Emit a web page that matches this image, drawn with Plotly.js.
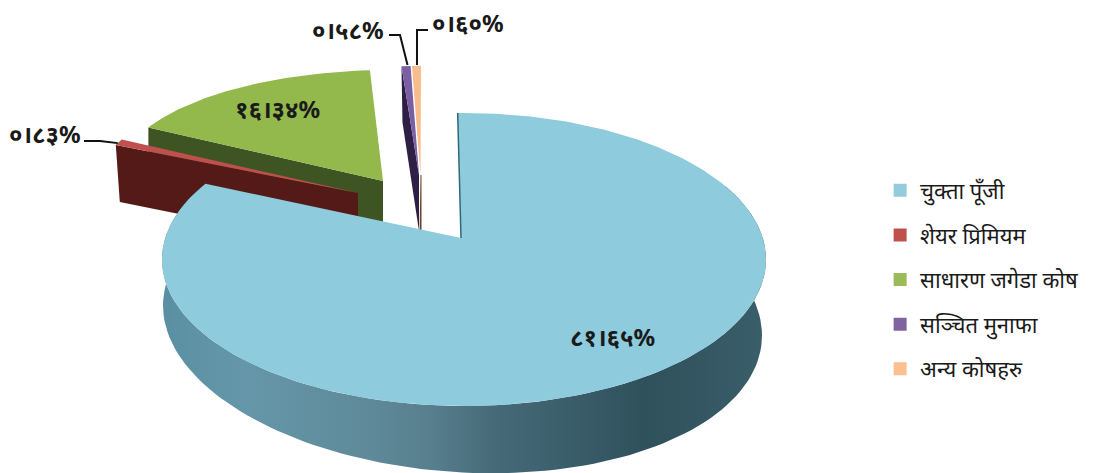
<!DOCTYPE html>
<html><head><meta charset="utf-8">
<script src="https://cdn.plot.ly/plotly-3.0.1.min.js"></script>
<style>html,body{margin:0;padding:0;background:#fff}#c{width:1094px;height:473px}</style></head>
<body><div id="c"></div>
<script>
// ---- data ----
const categories = ["चुक्ता पूँजी","शेयर प्रिमियम","साधारण जगेडा कोष","सञ्चित मुनाफा","अन्य कोषहरु"];
const shares = [81.65, 0.83, 16.34, 0.58, 0.60];
const shareLabels = ["८१।६५%","०।८३%","१६।३४%","०।५८%","०।६०%"];

// ---- styles ----
const legendColors = ["#93cddd","#c0504d","#9bbb59","#8064a2","#fac090"];
const topColors = ["#8dcbdd","#c0504d","#93b84c","#7a5fa5","#f7bd8c"];
const wallColors = ["#3f6675","#541a18","#3f5423","#2e1f45","#6b4528"];
const font = '"Noto Sans","DejaVu Sans",sans-serif';

// ---- projection of each wedge: rim ellipse, apex, wall height (pixels of the 1094x473 canvas) ----
const rims = [
  {cx:464, cy:259.5, rx:302, ry:146.5, ax:461, ay:238, h:48, sweep:1.0285, start:-1.2},
  {cx:358, cy:193, rx:265, ry:118, ax:358, ay:193, h:57},
  {cx:390, cy:175, rx:271, ry:105, ax:383, ay:181, h:48},
  {cx:420, cy:171, rx:250, ry:105, ax:419, ay:175, h:56},
  {cx:421, cy:171, rx:240, ry:105, ax:420.5, ay:175, h:56}
];

const rad = d => d*Math.PI/180;
let acc = 0;
const wedges = shares.map((s,i)=>{
  const r = rims[i];
  const a0 = (r.start!==undefined ? r.start : acc*3.6);
  const a1 = a0 + s*3.6*(r.sweep||1);
  acc += s;
  const xs=[], ys=[];
  const n = Math.max(2, Math.ceil(a1-a0));
  for(let k=0;k<=n;k++){
    const a = rad(a0+(a1-a0)*k/n);
    xs.push(r.cx+r.rx*Math.sin(a)); ys.push(r.cy-r.ry*Math.cos(a));
  }
  return {r,xs,ys};
});
function poly(x,y,color,extra){
  return Object.assign({type:"scatter",mode:"lines",x,y,fill:"toself",fillcolor:color,
    line:{width:0,color:color},hoverinfo:"skip",showlegend:false},extra||{});
}
function topFace(i){
  const w=wedges[i];
  return poly([w.r.ax,...w.xs,w.r.ax],[w.r.ay,...w.ys,w.r.ay],topColors[i]);
}
function cutFace(i,shift){ // visible radial face under the first rim point
  const w=wedges[i], x0=w.xs[0], y0=w.ys[0], h=w.r.h;
  return poly([x0,w.r.ax,w.r.ax,x0+(shift||0),x0],[y0,w.r.ay,w.r.ay+h,y0+h,y0],wallColors[i]);
}
// blue outer wall
function blueWall(){
  const r=rims[0], xs=[], ys=[], bot={cx:462.5,cy:320.5,rx:299.5,ry:152,tilt:15};
  for(let a=60;a<=300;a+=2){xs.push(r.cx+r.rx*Math.sin(rad(a)));ys.push(r.cy-r.ry*Math.cos(rad(a)));}
  for(let a=300;a>=60;a-=2){xs.push(bot.cx+bot.rx*Math.sin(rad(a)));ys.push(bot.cy-bot.ry*Math.cos(rad(a))+bot.tilt*Math.sin(rad(a)));}
  return poly(xs,ys,wallColors[0],{fillgradient:{type:"horizontal",colorscale:[
    [0,"#5a8fa2"],[0.14,"#6597a9"],[0.36,"#5e8897"],[0.45,"#577e8d"],[0.55,"#466a78"],[0.8,"#2e515c"],[1,"#3a5e6a"]]}});
}
const w0=wedges[0];
const traces=[
  cutFace(2), topFace(2),
  cutFace(1,4), topFace(1),
  cutFace(3,1), topFace(3),
  poly([wedges[4].r.ax,wedges[4].r.ax+1,wedges[4].r.ax+1,wedges[4].r.ax-1],[175,175,235,235],wallColors[4]),
  topFace(4),
  blueWall(),
  topFace(0),
  {type:"scatter",mode:"lines",x:[w0.xs[0],w0.r.ax],y:[w0.ys[0],w0.r.ay],line:{color:"#2f6a78",width:1.5},hoverinfo:"skip",showlegend:false}
];
// leader lines, anchored on the label side and on the wedge rim
const leaderLine={color:"#111",width:2};
function leader(x,y){return {type:"scatter",mode:"lines",x,y,line:leaderLine,hoverinfo:"skip",showlegend:false};}
traces.push(leader([84,100,wedges[1].xs[0]+2],[141,141,wedges[1].ys[0]-2]));
traces.push(leader([389,400,wedges[3].xs[Math.floor(wedges[3].xs.length/2)]],[35,35,65]));
traces.push(leader([428,417,wedges[4].xs[Math.floor(wedges[4].xs.length/2)]-1],[30,30,65]));
// legend
categories.forEach((c,i)=>traces.push({type:"scatter",mode:"markers",x:[null],y:[null],name:c,legendgroup:"g"+i,
  marker:{symbol:"square",size:13,color:legendColors[i]},hoverinfo:"skip"}));

const labelPos=[[612,336],[45,133],[277,108],[348,29],[468,22]];
const annotations=shareLabels.map((t,i)=>({x:labelPos[i][0],y:labelPos[i][1],xref:"x",yref:"y",text:"<b>"+t+"</b>",showarrow:false,
  font:{family:font,size:24,color:"#1a1a1a"},xanchor:"center",yanchor:"middle"}));

Plotly.newPlot("c",traces,{
  width:1094,height:473,margin:{l:0,r:0,t:0,b:0},paper_bgcolor:"#fff",plot_bgcolor:"#fff",
  xaxis:{range:[0,1094],visible:false,fixedrange:true},
  yaxis:{range:[473,0],visible:false,fixedrange:true},
  showlegend:true,
  legend:{x:0.8045,y:0.409,xanchor:"left",yanchor:"middle",tracegroupgap:13,font:{family:font,size:22,color:"#1a1a1a"},bgcolor:"rgba(0,0,0,0)",itemclick:false,itemdoubleclick:false},
  annotations
},{displayModeBar:false,staticPlot:true});
</script></body></html>
